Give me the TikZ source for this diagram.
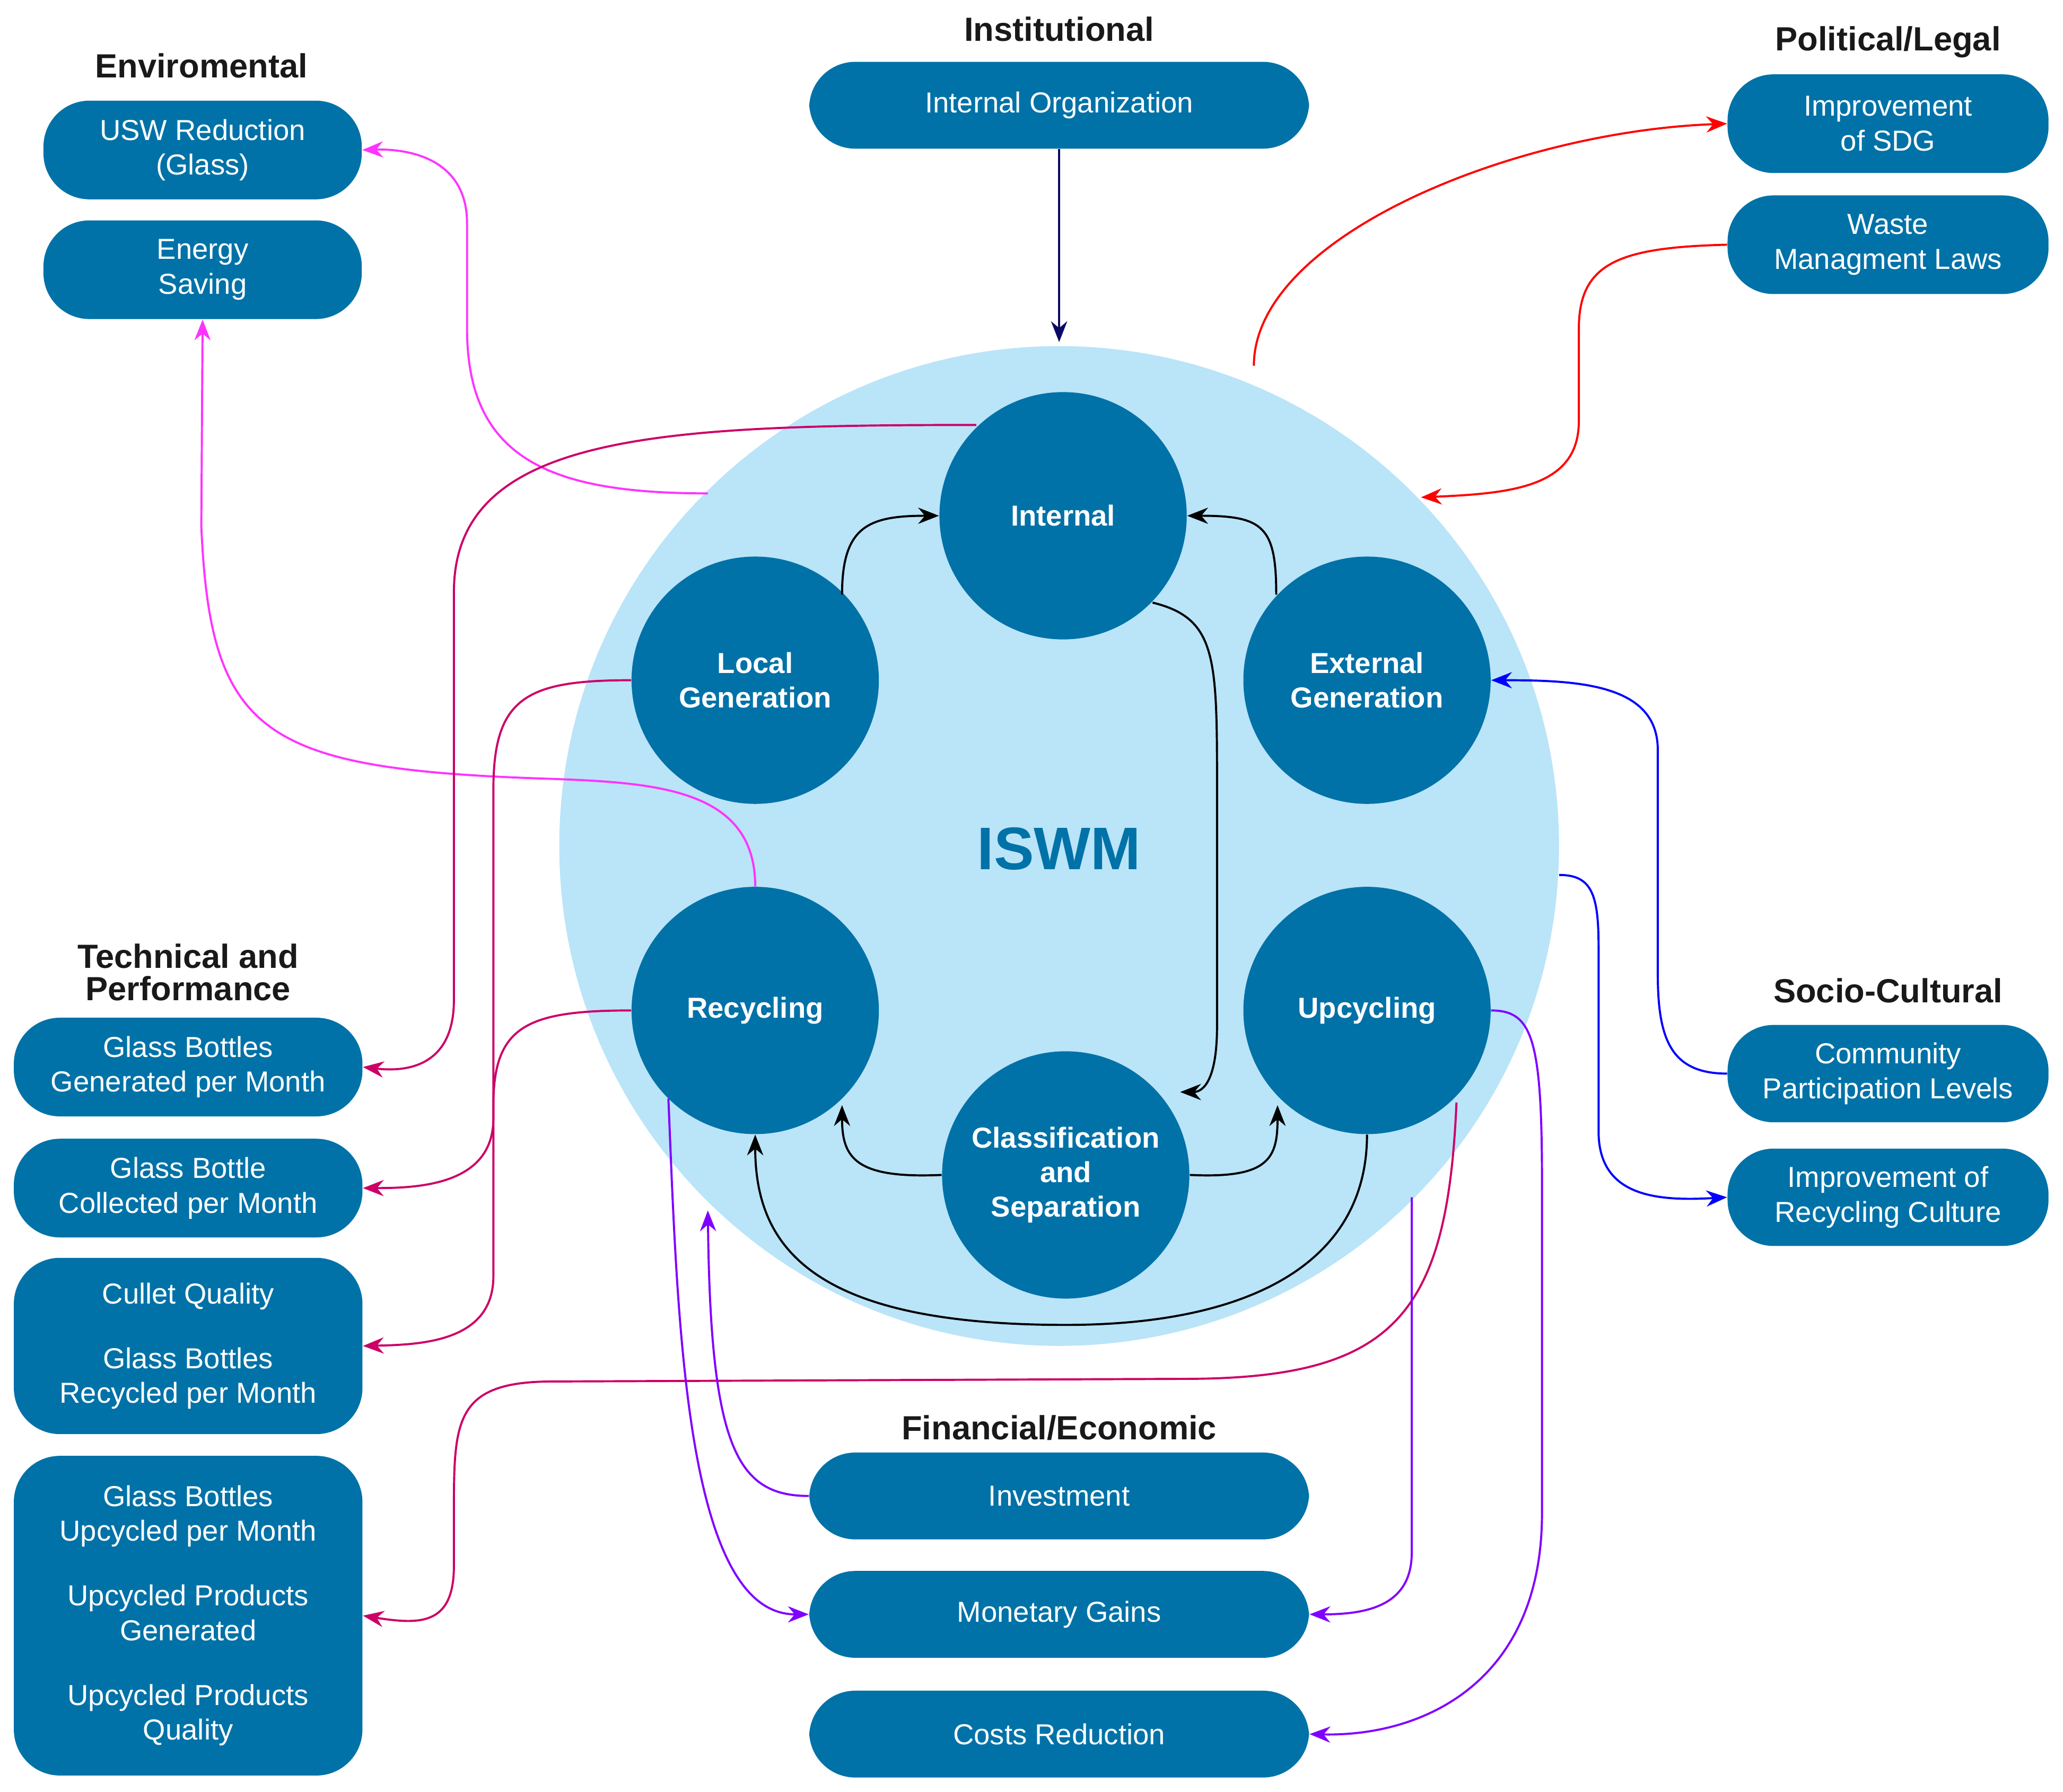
\documentclass[tikz,border=0pt]{standalone}
\usepackage{fontspec}
\setmainfont{Liberation Sans}
\usetikzlibrary{arrows.meta}
\definecolor{bx}{RGB}{0,114,168}
\definecolor{lb}{RGB}{186,228,248}
\definecolor{mg}{RGB}{255,51,255}
\definecolor{cr}{RGB}{204,0,102}
\definecolor{vi}{RGB}{128,0,255}
\definecolor{nv}{RGB}{10,10,100}
\begin{document}
\begin{tikzpicture}[x=0.02cm,y=-0.02cm,
 box/.style={fill=bx,text=white,rounded corners=0.7cm,align=center,inner sep=0pt,font=\fontsize{12.5}{15}\selectfont},
 cir/.style={circle,fill=bx,text=white,minimum size=3.76cm,align=center,inner sep=0pt,font=\bfseries\fontsize{12.5}{15}\selectfont},
 ttl/.style={font=\bfseries\fontsize{14.5}{17}\selectfont,text=black!90,align=center},
 ar/.style={-{Stealth[length=9pt,width=7pt]},line width=0.9pt}]
\useasboundingbox (0,0) rectangle (1568,1362);
\node[circle,fill=lb,minimum size=15.2cm,inner sep=0pt] (big) at (805,643) {};
\node[text=bx,font=\bfseries\fontsize{26}{30}\selectfont] (iswm) at (805,645) {ISWM};
\node[cir] (int) at (808,392) {Internal};
\node[cir] (loc) at (574,517) {Local\\Generation};
\node[cir] (ext) at (1039,517) {External\\Generation};
\node[cir] (rec) at (574,768) {Recycling};
\node[cir] (upc) at (1039,768) {Upcycling};
\node[cir] (cls) at (810,893) {Classification\\and\\Separation};
% titles
\node[ttl] (t1) at (805,22) {Institutional};
\node[ttl] (t2) at (153,50) {Enviromental};
\node[ttl] (t3) at (1435,32) {Political/Legal};
\node[ttl] (t4) at (143,739) {Technical and\\[-3pt]Performance};
\node[ttl] (t5) at (1435,753) {Socio-Cultural};
\node[ttl] (t6) at (805,1085) {Financial/Economic};
% boxes
\node[box,minimum width=7.6cm,minimum height=1.32cm] (io) at (805,80) {Internal Organization};
\node[box,minimum width=4.84cm,minimum height=1.5cm] (usw) at (154,114) {USW Reduction\\(Glass)};
\node[box,minimum width=4.84cm,minimum height=1.5cm] (en) at (154,205) {Energy\\Saving};
\node[box,minimum width=4.88cm,minimum height=1.5cm] (sdg) at (1435,94) {Improvement\\of SDG};
\node[box,minimum width=4.88cm,minimum height=1.5cm] (wml) at (1435,186) {Waste\\Managment Laws};
\node[box,minimum width=5.3cm,minimum height=1.5cm] (gb1) at (143,811) {Glass Bottles\\Generated per Month};
\node[box,minimum width=5.3cm,minimum height=1.5cm] (gb2) at (143,903) {Glass Bottle\\Collected per Month};
\node[box,minimum width=5.3cm,minimum height=2.68cm] (gb3) at (143,1023) {Cullet Quality\\[13pt]Glass Bottles\\Recycled per Month};
\node[box,minimum width=5.3cm,minimum height=4.86cm] (gb4) at (143,1228) {Glass Bottles\\Upcycled per Month\\[13pt]Upcycled Products\\Generated\\[13pt]Upcycled Products\\Quality};
\node[box,minimum width=4.88cm,minimum height=1.48cm] (cpl) at (1435,816) {Community\\Participation Levels};
\node[box,minimum width=4.88cm,minimum height=1.48cm] (irc) at (1435,910) {Improvement of\\Recycling Culture};
\node[box,minimum width=7.6cm,minimum height=1.32cm] (inv) at (805,1137) {Investment};
\node[box,minimum width=7.6cm,minimum height=1.32cm] (mon) at (805,1227) {Monetary Gains};
\node[box,minimum width=7.6cm,minimum height=1.32cm] (cst) at (805,1318) {Costs Reduction};
\coordinate (c1) at (805,260);
\coordinate (c2) at (953,278);
\coordinate (c3) at (1080,378);
\coordinate (c4) at (538,375);
\coordinate (c5) at (538,920);
\coordinate (c6) at (1185,665);
\coordinate (c7) at (742,323);
% arrows
\draw[ar,nv] (io.south) -- (c1);
\draw[ar,red] (c2) .. controls (953,180) and (1150,100) .. (sdg.west);
\draw[ar,red] (wml.west) .. controls (1230,188) and (1200,200) .. (1200,250) -- (1200,320) .. controls (1200,370) and (1150,375) .. (c3);
\draw[ar,mg] (c4) .. controls (420,375) and (355,350) .. (355,250) -- (355,170) .. controls (355,120) and (310,113) .. (usw.east);
\draw[ar,mg] (rec.north) .. controls (574,600) and (500,595) .. (420,592) .. controls (200,585) and (160,560) .. (153,400) -- (en.south);
\draw[ar,cr] (c7) .. controls (500,323) and (345,330) .. (345,450) -- (345,760) .. controls (345,810) and (310,815) .. (gb1.east);
\draw[ar,cr] (loc.west) .. controls (400,517) and (375,530) .. (375,600) -- (375,850) .. controls (375,900) and (320,903) .. (gb2.east);
\draw[ar,cr] (rec.west) .. controls (400,768) and (375,780) .. (375,840) -- (375,970) .. controls (375,1020) and (320,1022) .. (gb3.east);
\draw[ar,cr] (1107,838) .. controls (1100,1000) and (1060,1048) .. (900,1048) -- (420,1050) .. controls (345,1050) and (345,1080) .. (345,1150) -- (345,1190) .. controls (345,1235) and (320,1235) .. (gb4.east);
\draw[ar,blue] (cpl.west) .. controls (1270,816) and (1260,790) .. (1260,740) -- (1260,570) .. controls (1260,520) and (1200,517) .. (ext.east);
\draw[ar,blue] (c6) .. controls (1210,665) and (1215,680) .. (1215,720) -- (1215,860) .. controls (1215,910) and (1260,913) .. (irc.west);
\draw[ar,vi] (inv.west) .. controls (560,1137) and (540,1100) .. (c5);
\draw[ar,vi] (508,835) .. controls (515,1000) and (520,1227) .. (mon.west);
\draw[ar,vi] (1073,910) -- (1073,1180) .. controls (1073,1220) and (1040,1227) .. (mon.east);
\draw[ar,vi] (upc.east) .. controls (1165,768) and (1172,790) .. (1172,900) -- (1172,1150) .. controls (1172,1280) and (1080,1320) .. (cst.east);
\draw[ar,black] (640,452) .. controls (640,400) and (660,392) .. (int.west);
\draw[ar,black] (970,452) .. controls (970,400) and (960,392) .. (int.east);
\draw[ar,black] (876,458) .. controls (925,470) and (925,500) .. (925,600) -- (925,780) .. controls (925,820) and (915,830) .. (897,830);
\draw[ar,black] (cls.west) .. controls (650,896) and (640,880) .. (640,840);
\draw[ar,black] (cls.east) .. controls (965,896) and (971,880) .. (971,840);
\draw[ar,black] (upc.south) .. controls (1039,960) and (950,1007) .. (810,1007) .. controls (620,1007) and (574,950) .. (rec.south);
\end{tikzpicture}
\end{document}
